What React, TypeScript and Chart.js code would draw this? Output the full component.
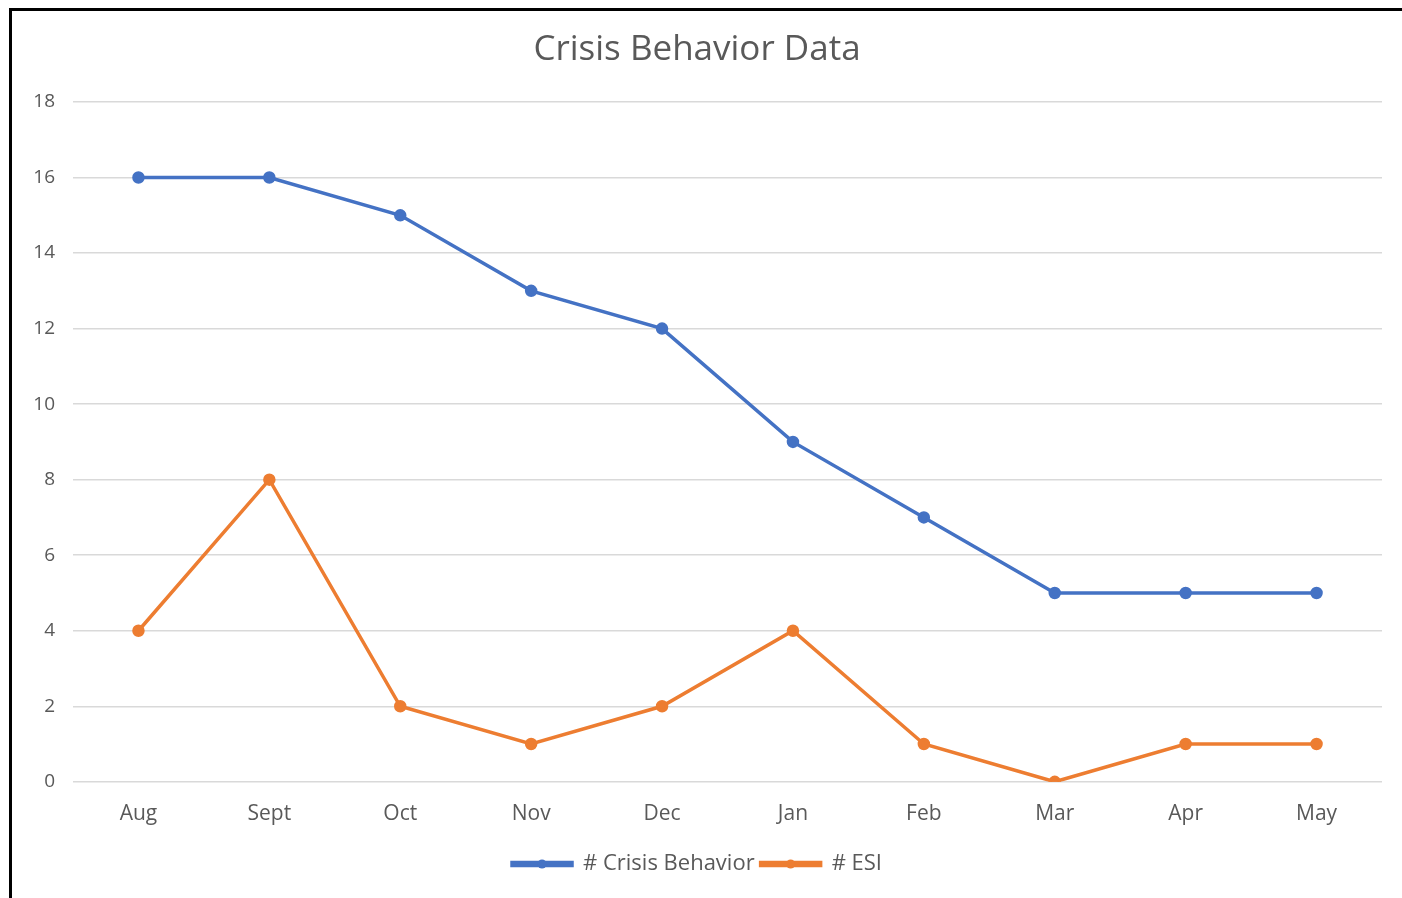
import React, { useEffect, useRef } from "react";
import { Chart, registerables } from "chart.js";

Chart.register(...registerables);

const months = ["Aug", "Sept", "Oct", "Nov", "Dec", "Jan", "Feb", "Mar", "Apr", "May"];
const crisisBehavior = [16, 16, 15, 13, 12, 9, 7, 5, 5, 5];
const esi = [4, 8, 2, 1, 2, 4, 1, 0, 1, 1];
const seriesNames = ["# Crisis Behavior", "# ESI"];
const chartTitle = "Crisis Behavior Data";

const BLUE = "#4472C4";
const ORANGE = "#ED7D31";
const TEXT = "#595959";
const FONT = "'Open Sans', 'Liberation Sans', sans-serif";

const legendDots = {
  id: "legendDots",
  afterDraw(chart: any) {
    const legend = chart.legend;
    if (!legend || !legend.legendHitBoxes) return;
    const ctx = chart.ctx;
    const boxW = legend.options.labels.boxWidth;
    legend.legendHitBoxes.forEach((hb: any, i: number) => {
      const ds = chart.data.datasets[i];
      ctx.save();
      ctx.fillStyle = ds.borderColor;
      ctx.beginPath();
      ctx.arc(hb.left + boxW / 2, hb.top + hb.height / 2, 4.5, 0, Math.PI * 2);
      ctx.fill();
      ctx.restore();
    });
  },
};

export default function App() {
  const ref = useRef<HTMLCanvasElement | null>(null);

  useEffect(() => {
    if (!ref.current) return;
    const chart = new Chart(ref.current, {
      type: "line",
      data: {
        labels: months,
        datasets: [
          {
            label: seriesNames[0],
            data: crisisBehavior,
            borderColor: BLUE,
            backgroundColor: BLUE,
            borderWidth: 3.5,
            pointRadius: 4.5,
            pointBackgroundColor: BLUE,
            pointBorderColor: BLUE,
            tension: 0,
          },
          {
            label: seriesNames[1],
            data: esi,
            borderColor: ORANGE,
            backgroundColor: ORANGE,
            borderWidth: 3.5,
            pointRadius: 4.5,
            pointBackgroundColor: ORANGE,
            pointBorderColor: ORANGE,
            tension: 0,
          },
        ],
      },
      plugins: [legendDots],
      options: {
        responsive: false,
        animation: false,
        layout: { padding: { left: 0, right: 20, top: 0, bottom: 13 } },
        plugins: {
          title: {
            display: true,
            text: chartTitle,
            color: TEXT,
            font: { family: FONT, size: 35, weight: "normal" },
            padding: { top: 18, bottom: 31 },
          },
          legend: {
            position: "bottom",
            labels: {
              color: TEXT,
              font: { family: FONT, size: 22 },
              boxWidth: 60,
              boxHeight: 3,
              padding: 6,
            },
          },
          tooltip: { enabled: false },
        },
        scales: {
          x: {
            offset: true,
            grid: { display: false, drawTicks: false },
            border: { display: false },
            ticks: { color: TEXT, font: { family: FONT, size: 21 }, padding: 20 },
          },
          y: {
            min: 0,
            max: 18,
            ticks: { stepSize: 2, color: TEXT, font: { family: FONT, size: 19 }, padding: 18 },
            grid: { color: "#d9d9d9", lineWidth: 1.5, drawTicks: false },
            border: { display: false },
            afterFit: (s: any) => {
              s.width = 61;
            },
          },
        },
      },
    });
    return () => chart.destroy();
  }, []);

  return (
    <div
      style={{
        position: "absolute",
        left: 9,
        top: 8,
        width: 1393,
        height: 890,
        borderTop: "3px solid #000",
        borderLeft: "3px solid #000",
        boxSizing: "border-box",
        background: "#fff",
      }}
    >
      <canvas ref={ref} width={1390} height={887} style={{ display: "block" }} />
    </div>
  );
}
